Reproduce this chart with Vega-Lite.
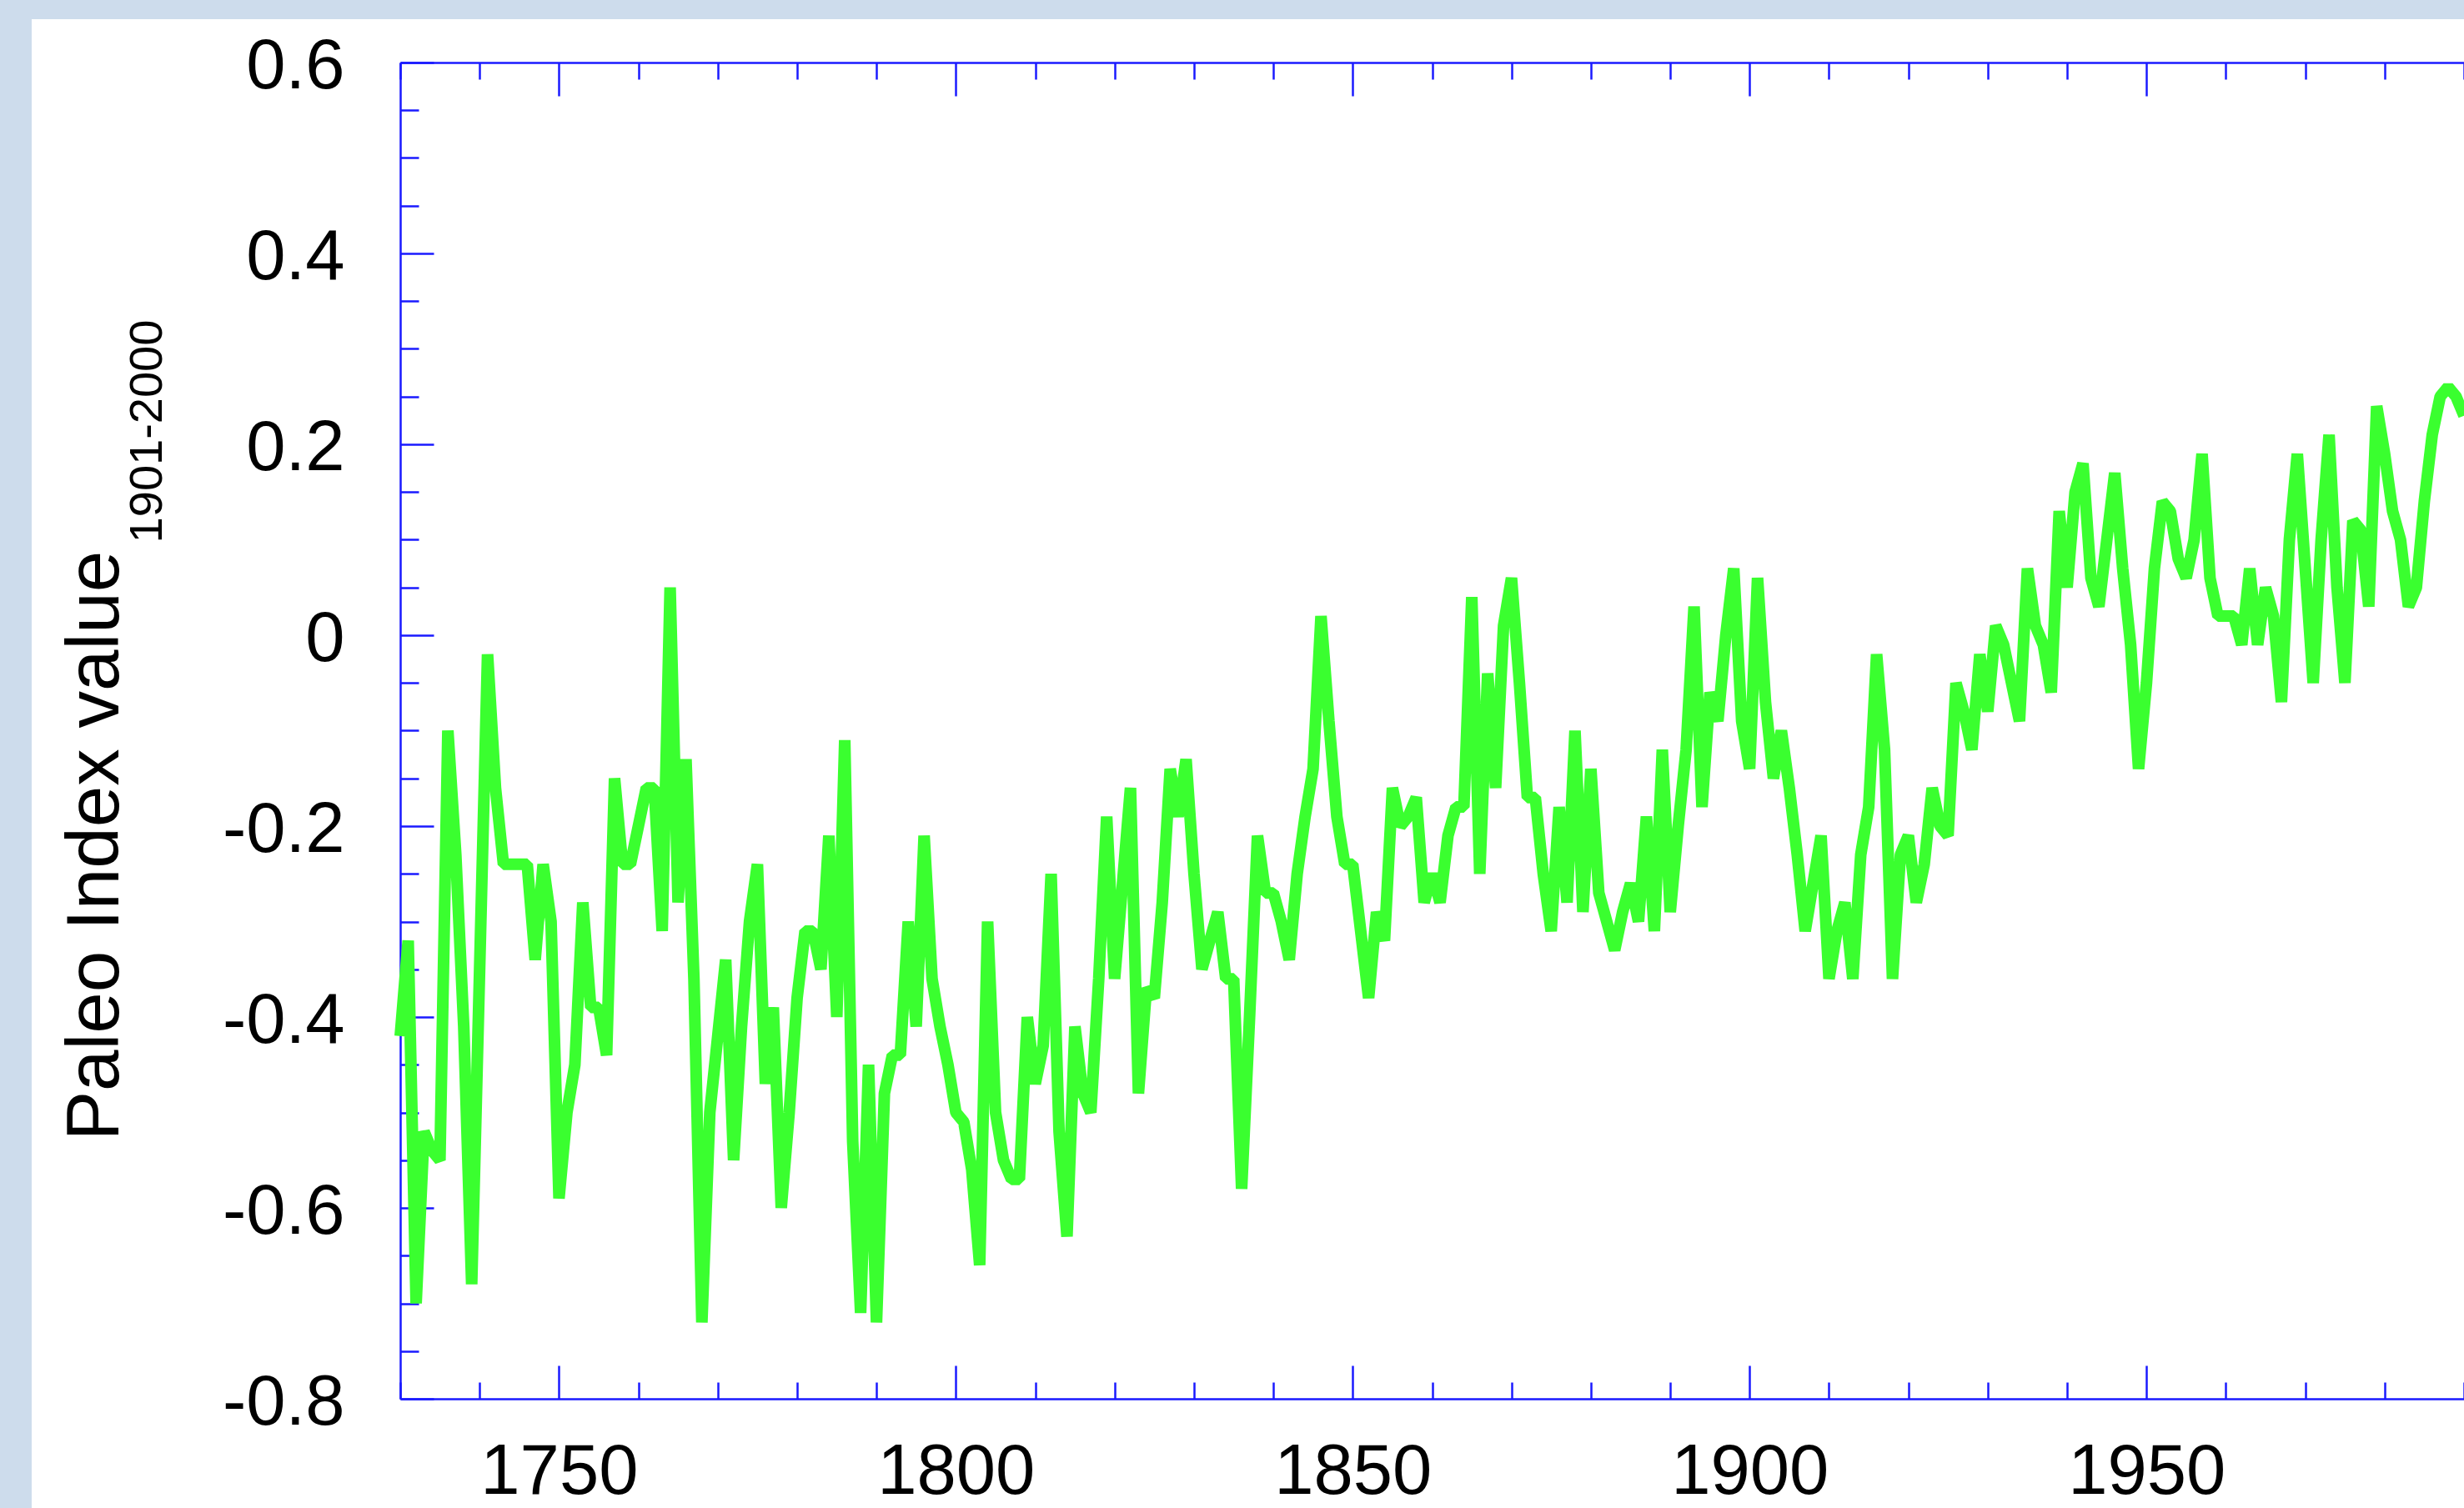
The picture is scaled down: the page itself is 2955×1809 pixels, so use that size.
{
  "$schema": "https://vega.github.io/schema/vega-lite/v6.json",
  "autosize": {"type": "none"},
  "padding": {"left": 38, "top": 23, "right": 0, "bottom": 0},
  "width": 2917,
  "height": 1786,
  "background": "#cddcec",
  "config": {
    "view": {"fill": "white", "stroke": null},
    "font": "Liberation Sans"
  },
  "data": {"values": [
    {"year":1730,"value":-0.42},{"year":1731,"value":-0.32},{"year":1732,"value":-0.70},{"year":1733,"value":-0.52},{"year":1734,"value":-0.54},
    {"year":1735,"value":-0.55},{"year":1736,"value":-0.10},{"year":1737,"value":-0.23},{"year":1738,"value":-0.41},{"year":1739,"value":-0.68},
    {"year":1740,"value":-0.35},{"year":1741,"value":-0.02},{"year":1742,"value":-0.16},{"year":1743,"value":-0.24},{"year":1744,"value":-0.24},
    {"year":1745,"value":-0.24},{"year":1746,"value":-0.24},{"year":1747,"value":-0.34},{"year":1748,"value":-0.24},{"year":1749,"value":-0.30},
    {"year":1750,"value":-0.59},{"year":1751,"value":-0.50},{"year":1752,"value":-0.45},{"year":1753,"value":-0.28},{"year":1754,"value":-0.39},
    {"year":1755,"value":-0.39},{"year":1756,"value":-0.44},{"year":1757,"value":-0.15},{"year":1758,"value":-0.24},{"year":1759,"value":-0.24},
    {"year":1760,"value":-0.20},{"year":1761,"value":-0.16},{"year":1762,"value":-0.16},{"year":1763,"value":-0.31},{"year":1764,"value":0.05},
    {"year":1765,"value":-0.28},{"year":1766,"value":-0.13},{"year":1767,"value":-0.36},{"year":1768,"value":-0.72},{"year":1769,"value":-0.50},
    {"year":1770,"value":-0.42},{"year":1771,"value":-0.34},{"year":1772,"value":-0.55},{"year":1773,"value":-0.41},{"year":1774,"value":-0.30},
    {"year":1775,"value":-0.24},{"year":1776,"value":-0.47},{"year":1777,"value":-0.39},{"year":1778,"value":-0.60},{"year":1779,"value":-0.50},
    {"year":1780,"value":-0.38},{"year":1781,"value":-0.31},{"year":1782,"value":-0.31},{"year":1783,"value":-0.35},{"year":1784,"value":-0.21},
    {"year":1785,"value":-0.40},{"year":1786,"value":-0.11},{"year":1787,"value":-0.53},{"year":1788,"value":-0.71},{"year":1789,"value":-0.45},
    {"year":1790,"value":-0.72},{"year":1791,"value":-0.48},{"year":1792,"value":-0.44},{"year":1793,"value":-0.44},{"year":1794,"value":-0.30},
    {"year":1795,"value":-0.41},{"year":1796,"value":-0.21},{"year":1797,"value":-0.36},{"year":1798,"value":-0.41},{"year":1799,"value":-0.45},
    {"year":1800,"value":-0.50},{"year":1801,"value":-0.51},{"year":1802,"value":-0.56},{"year":1803,"value":-0.66},{"year":1804,"value":-0.30},
    {"year":1805,"value":-0.50},{"year":1806,"value":-0.55},{"year":1807,"value":-0.57},{"year":1808,"value":-0.57},{"year":1809,"value":-0.40},
    {"year":1810,"value":-0.47},{"year":1811,"value":-0.43},{"year":1812,"value":-0.25},{"year":1813,"value":-0.52},{"year":1814,"value":-0.63},
    {"year":1815,"value":-0.41},{"year":1816,"value":-0.48},{"year":1817,"value":-0.50},{"year":1818,"value":-0.36},{"year":1819,"value":-0.19},
    {"year":1820,"value":-0.36},{"year":1821,"value":-0.26},{"year":1822,"value":-0.16},{"year":1823,"value":-0.48},{"year":1824,"value":-0.37},
    {"year":1825,"value":-0.38},{"year":1826,"value":-0.28},{"year":1827,"value":-0.14},{"year":1828,"value":-0.19},{"year":1829,"value":-0.13},
    {"year":1830,"value":-0.25},{"year":1831,"value":-0.35},{"year":1832,"value":-0.32},{"year":1833,"value":-0.29},{"year":1834,"value":-0.36},
    {"year":1835,"value":-0.36},{"year":1836,"value":-0.58},{"year":1837,"value":-0.40},{"year":1838,"value":-0.21},{"year":1839,"value":-0.27},
    {"year":1840,"value":-0.27},{"year":1841,"value":-0.30},{"year":1842,"value":-0.34},{"year":1843,"value":-0.25},{"year":1844,"value":-0.19},
    {"year":1845,"value":-0.14},{"year":1846,"value":0.02},{"year":1847,"value":-0.09},{"year":1848,"value":-0.19},{"year":1849,"value":-0.24},
    {"year":1850,"value":-0.24},{"year":1851,"value":-0.31},{"year":1852,"value":-0.38},{"year":1853,"value":-0.29},{"year":1854,"value":-0.32},
    {"year":1855,"value":-0.16},{"year":1856,"value":-0.20},{"year":1857,"value":-0.19},{"year":1858,"value":-0.17},{"year":1859,"value":-0.28},
    {"year":1860,"value":-0.25},{"year":1861,"value":-0.28},{"year":1862,"value":-0.21},{"year":1863,"value":-0.18},{"year":1864,"value":-0.18},
    {"year":1865,"value":0.04},{"year":1866,"value":-0.25},{"year":1867,"value":-0.04},{"year":1868,"value":-0.16},{"year":1869,"value":0.01},
    {"year":1870,"value":0.06},{"year":1871,"value":-0.05},{"year":1872,"value":-0.17},{"year":1873,"value":-0.17},{"year":1874,"value":-0.25},
    {"year":1875,"value":-0.31},{"year":1876,"value":-0.18},{"year":1877,"value":-0.28},{"year":1878,"value":-0.10},{"year":1879,"value":-0.29},
    {"year":1880,"value":-0.14},{"year":1881,"value":-0.27},{"year":1882,"value":-0.30},{"year":1883,"value":-0.33},{"year":1884,"value":-0.29},
    {"year":1885,"value":-0.26},{"year":1886,"value":-0.30},{"year":1887,"value":-0.19},{"year":1888,"value":-0.31},{"year":1889,"value":-0.12},
    {"year":1890,"value":-0.29},{"year":1891,"value":-0.20},{"year":1892,"value":-0.12},{"year":1893,"value":0.03},{"year":1894,"value":-0.18},
    {"year":1895,"value":-0.06},{"year":1896,"value":-0.09},{"year":1897,"value":0.00},{"year":1898,"value":0.07},{"year":1899,"value":-0.09},
    {"year":1900,"value":-0.14},{"year":1901,"value":0.06},{"year":1902,"value":-0.07},{"year":1903,"value":-0.15},{"year":1904,"value":-0.10},
    {"year":1905,"value":-0.16},{"year":1906,"value":-0.23},{"year":1907,"value":-0.31},{"year":1908,"value":-0.26},{"year":1909,"value":-0.21},
    {"year":1910,"value":-0.36},{"year":1911,"value":-0.31},{"year":1912,"value":-0.28},{"year":1913,"value":-0.36},{"year":1914,"value":-0.23},
    {"year":1915,"value":-0.18},{"year":1916,"value":-0.02},{"year":1917,"value":-0.12},{"year":1918,"value":-0.36},{"year":1919,"value":-0.23},
    {"year":1920,"value":-0.21},{"year":1921,"value":-0.28},{"year":1922,"value":-0.24},{"year":1923,"value":-0.16},{"year":1924,"value":-0.20},
    {"year":1925,"value":-0.21},{"year":1926,"value":-0.05},{"year":1927,"value":-0.08},{"year":1928,"value":-0.12},{"year":1929,"value":-0.02},
    {"year":1930,"value":-0.08},{"year":1931,"value":0.01},{"year":1932,"value":-0.01},{"year":1933,"value":-0.05},{"year":1934,"value":-0.09},
    {"year":1935,"value":0.07},{"year":1936,"value":0.01},{"year":1937,"value":-0.01},{"year":1938,"value":-0.06},{"year":1939,"value":0.13},
    {"year":1940,"value":0.05},{"year":1941,"value":0.15},{"year":1942,"value":0.18},{"year":1943,"value":0.06},{"year":1944,"value":0.03},
    {"year":1945,"value":0.10},{"year":1946,"value":0.17},{"year":1947,"value":0.07},{"year":1948,"value":-0.01},{"year":1949,"value":-0.14},
    {"year":1950,"value":-0.05},{"year":1951,"value":0.07},{"year":1952,"value":0.14},{"year":1953,"value":0.13},{"year":1954,"value":0.08},
    {"year":1955,"value":0.06},{"year":1956,"value":0.10},{"year":1957,"value":0.19},{"year":1958,"value":0.06},{"year":1959,"value":0.02},
    {"year":1960,"value":0.02},{"year":1961,"value":0.02},{"year":1962,"value":-0.01},{"year":1963,"value":0.07},{"year":1964,"value":-0.01},
    {"year":1965,"value":0.05},{"year":1966,"value":0.02},{"year":1967,"value":-0.07},{"year":1968,"value":0.10},{"year":1969,"value":0.19},
    {"year":1970,"value":0.07},{"year":1971,"value":-0.05},{"year":1972,"value":0.10},{"year":1973,"value":0.21},{"year":1974,"value":0.05},
    {"year":1975,"value":-0.05},{"year":1976,"value":0.12},{"year":1977,"value":0.11},{"year":1978,"value":0.03},{"year":1979,"value":0.24},
    {"year":1980,"value":0.19},{"year":1981,"value":0.13},{"year":1982,"value":0.10},{"year":1983,"value":0.03},{"year":1984,"value":0.05},
    {"year":1985,"value":0.14},{"year":1986,"value":0.21},{"year":1987,"value":0.25},{"year":1988,"value":0.26},{"year":1989,"value":0.25},
    {"year":1990,"value":0.23}
  ]},
  "resolve": {"axis": {"x": "independent", "y": "independent"}},
  "layer": [
    {
      "mark": {"type": "line", "color": "#3aff2f", "strokeWidth": 14, "strokeJoin": "bevel", "clip": false},
      "encoding": {
        "x": {
          "field": "year", "type": "quantitative",
          "scale": {"domain": [1730, 1990], "range": [442, 2917], "nice": false, "zero": false},
          "axis": {
            "orient": "bottom", "offset": -131,
            "values": [1730,1740,1750,1760,1770,1780,1790,1800,1810,1820,1830,1840,1850,1860,1870,1880,1890,1900,1910,1920,1930,1940,1950,1960,1970,1980,1990],
            "labelExpr": "datum.value % 50 == 0 ? toString(datum.value) : ''",
            "title": null, "grid": false,
            "domainColor": "#1a1aff", "domainWidth": 2.5,
            "tickColor": "#1a1aff", "tickWidth": 2.5, "tickSize": 0,
            "labelPadding": 46, "labelFontSize": 85, "labelFont": "Liberation Sans", "labelColor": "#000000",
            "labelFlush": false, "labelOverlap": false, "labelLimit": 0,
            "encoding": {"ticks": {"y2": {"condition": {"test": "datum.value % 50 == 0", "value": -40}, "value": -20}}}
          }
        },
        "y": {
          "field": "value", "type": "quantitative",
          "scale": {"domain": [-0.8, 0.6], "range": [1655, 52], "nice": false, "zero": false},
          "axis": {
            "orient": "left", "offset": -442,
            "values": [-0.8,-0.75,-0.7,-0.65,-0.6,-0.55,-0.5,-0.45,-0.4,-0.35,-0.3,-0.25,-0.2,-0.15,-0.1,-0.05,0,0.05,0.1,0.15,0.2,0.25,0.3,0.35,0.4,0.45,0.5,0.55,0.6],
            "labelExpr": "abs(datum.value*5 - round(datum.value*5)) < 0.001 ? toString(round(datum.value*10)/10) : ''",
            "grid": false,
            "domainColor": "#1a1aff", "domainWidth": 2.5,
            "tickColor": "#1a1aff", "tickWidth": 2.5, "tickSize": 0,
            "labelPadding": 67, "labelOffset": 4, "labelFontSize": 85, "labelFont": "Liberation Sans", "labelColor": "#000000",
            "labelFlush": false, "labelOverlap": false, "labelLimit": 0,
            "title": "Paleo Index value",
            "titleFont": "Liberation Sans", "titleFontSize": 89, "titleFontWeight": "normal", "titleColor": "#000000",
            "titleBaseline": "alphabetic", "titleAngle": -90, "titleAlign": "center",
            "titleX": -339, "titleY": 991, "titleLimit": 0,
            "encoding": {"ticks": {"x2": {"condition": {"test": "abs(datum.value*5 - round(datum.value*5)) < 0.001", "value": 40}, "value": 22}}}
          }
        }
      }
    },
    {
      "mark": {"type": "line", "opacity": 0},
      "encoding": {
        "x": {
          "field": "year", "type": "quantitative",
          "scale": {"domain": [1730, 1990], "range": [442, 2917], "nice": false, "zero": false},
          "axis": {
            "orient": "top", "offset": -52,
            "values": [1730,1740,1750,1760,1770,1780,1790,1800,1810,1820,1830,1840,1850,1860,1870,1880,1890,1900,1910,1920,1930,1940,1950,1960,1970,1980,1990],
            "labels": false, "title": null, "grid": false,
            "domainColor": "#1a1aff", "domainWidth": 2.5,
            "tickColor": "#1a1aff", "tickWidth": 2.5, "tickSize": 0,
            "encoding": {"ticks": {"y2": {"condition": {"test": "datum.value % 50 == 0", "value": 40}, "value": 20}}}
          }
        },
        "y": {
          "field": "value", "type": "quantitative",
          "scale": {"domain": [-0.8, 0.6], "range": [1655, 52], "nice": false, "zero": false},
          "axis": {
            "orient": "left", "offset": -442,
            "domain": false, "ticks": false, "labels": false, "grid": false,
            "title": "1901-2000",
            "titleFont": "Liberation Sans", "titleFontSize": 56, "titleFontWeight": "normal", "titleColor": "#000000",
            "titleBaseline": "alphabetic", "titleAngle": -90, "titleAlign": "center",
            "titleX": -287, "titleY": 494, "titleLimit": 0
          }
        }
      }
    }
  ]
}
